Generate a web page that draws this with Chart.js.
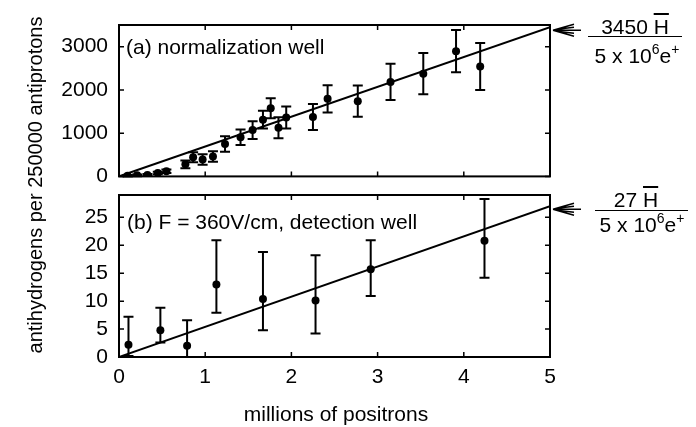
<!DOCTYPE html>
<html>
<head>
<meta charset="utf-8">
<script src="https://cdn.jsdelivr.net/npm/chart.js@4.4.1/dist/chart.umd.min.js"></script>
<style>
  html, body { margin:0; padding:0; background:#fff; }
  #wrap { position:relative; width:696px; height:427px; overflow:hidden; font-family:"Liberation Sans", Arial, Helvetica, sans-serif; color:#000; }
  canvas { position:absolute; left:0; }
  .t { position:absolute; font-size:21px; line-height:24px; white-space:nowrap; color:#000; }
  .ov { text-decoration: overline; text-decoration-thickness: 1.5px; }
  sup { font-size:14px; vertical-align:9px; line-height:0; }
  .fl { position:absolute; height:0; border-top:1.6px solid #000; }
</style>
</head>
<body>
<div id="wrap">
  <canvas id="cA" width="696" height="200" style="top:0px"></canvas>
  <canvas id="cB" width="696" height="257" style="top:170px"></canvas>

  <div class="t" style="left:126px; top:35px;">(a) normalization well</div>
  <div class="t" style="left:127px; top:210px;">(b) F = 360V/cm, detection well</div>
  <div class="t" style="left:-165px; top:173px; width:400px; text-align:center; font-size:20px; transform:rotate(-90deg);">antihydrogens per 250000 antiprotons</div>
  <div class="t" style="left:136px; top:402px; width:400px; text-align:center;">millions of positrons</div>

  <div class="t" style="left:585px; top:15px; width:100px; text-align:center;">3450 <span class="ov">H</span></div>
  <div class="fl" style="left:588px; top:36px; width:94px;"></div>
  <div class="t" style="left:587px; top:44px; width:100px; text-align:center;">5 x 10<sup>6</sup>e<sup>+</sup></div>

  <div class="t" style="left:586px; top:188px; width:100px; text-align:center;">27 <span class="ov">H</span></div>
  <div class="fl" style="left:595px; top:210px; width:93px;"></div>
  <div class="t" style="left:592px; top:213px; width:100px; text-align:center;">5 x 10<sup>6</sup>e<sup>+</sup></div>
</div>
<script>
// ---- data ----
const xTicks = [0, 1, 2, 3, 4, 5];
const topTicks = [0, 1000, 2000, 3000];
const botTicks = [0, 5, 10, 15, 20, 25];

const topX   = [0.10, 0.21, 0.33, 0.45, 0.55, 0.77, 0.86, 0.97, 1.09, 1.23, 1.41, 1.55, 1.67, 1.76, 1.85, 1.94, 2.25, 2.42, 2.77, 3.15, 3.53, 3.91, 4.19];
const topY   = [15, 25, 35, 80, 120, 280, 445, 390, 460, 750, 905, 1070, 1310, 1575, 1125, 1360, 1375, 1795, 1740, 2185, 2375, 2895, 2540];
const topErr = [15, 20, 20, 30, 40, 90, 115, 120, 120, 180, 180, 205, 205, 230, 245, 255, 300, 315, 360, 420, 475, 490, 545];

const botX  = [0.11, 0.48, 0.79, 1.13, 1.67, 2.28, 2.92, 4.24];
const botY  = [2.2, 4.8, 2.0, 13.0, 10.4, 10.1, 15.7, 20.8];
const botHi = [7.2, 8.8, 6.6, 20.9, 18.8, 18.2, 20.9, 28.3];
const botLo = [0.2, 2.6, 0.0, 7.9, 4.8, 4.2, 10.9, 14.2];

const fitX   = [0, 5];
const fitTop = [0, 3450];
const fitBot = [0, 27];

// ---- helpers ----
const FONT = { family: '"Liberation Sans", Arial, Helvetica, sans-serif', size: 21 };

const framePlugin = {
  id: 'frame',
  afterDatasetsDraw(chart, args, opts) {
    const ctx = chart.ctx, a = chart.chartArea;
    const xs = chart.scales.x, ys = chart.scales.y;
    ctx.save();
    ctx.strokeStyle = '#000';
    // error bars
    const eb = opts.err;
    ctx.lineWidth = 2;
    for (let i = 0; i < eb.x.length; i++) {
      const px = xs.getPixelForValue(eb.x[i]);
      const pl = ys.getPixelForValue(eb.lo[i]);
      const ph = ys.getPixelForValue(eb.hi[i]);
      ctx.beginPath();
      ctx.moveTo(px, pl); ctx.lineTo(px, ph);
      ctx.moveTo(px - 5, pl); ctx.lineTo(px + 5, pl);
      ctx.moveTo(px - 5, ph); ctx.lineTo(px + 5, ph);
      ctx.stroke();
    }
    // box
    ctx.lineWidth = 2;
    ctx.strokeRect(a.left, a.top, a.right - a.left, a.bottom - a.top);
    // inward ticks
    ctx.lineWidth = 1.5;
    ctx.beginPath();
    xs.ticks.forEach(t => {
      const p = xs.getPixelForValue(t.value);
      ctx.moveTo(p, a.bottom); ctx.lineTo(p, a.bottom - 5);
      ctx.moveTo(p, a.top); ctx.lineTo(p, a.top + 5);
    });
    ys.ticks.forEach(t => {
      const p = ys.getPixelForValue(t.value);
      ctx.moveTo(a.left, p); ctx.lineTo(a.left + 5, p);
      ctx.moveTo(a.right, p); ctx.lineTo(a.right - 5, p);
    });
    ctx.stroke();
    // arrow to the fit line end
    const tipX = a.right + 3;
    const tipY = ys.getPixelForValue(opts.arrowVal) + 3;
    ctx.lineWidth = 1.5;
    ctx.beginPath();
    ctx.moveTo(tipX, tipY); ctx.lineTo(tipX + 28, tipY);
    ctx.moveTo(tipX, tipY); ctx.lineTo(tipX + 21, tipY - 6);
    ctx.moveTo(tipX, tipY); ctx.lineTo(tipX + 21, tipY + 6);
    ctx.moveTo(tipX + 4, tipY - 1); ctx.lineTo(tipX + 21, tipY - 3);
    ctx.moveTo(tipX + 4, tipY + 1); ctx.lineTo(tipX + 21, tipY + 3);
    ctx.stroke();
    ctx.restore();
  }
};

function makeChart(id, xs, ys, fit, yMax, yTickList, err, arrowVal, showX, padTop, xHeight) {
  return new Chart(document.getElementById(id), {
    type: 'scatter',
    data: {
      datasets: [
        {
          data: xs.map((v, i) => ({ x: v, y: ys[i] })),
          pointRadius: 4, pointHoverRadius: 4,
          backgroundColor: '#000', borderWidth: 0
        },
        {
          data: fitX.map((v, i) => ({ x: v, y: fit[i] })),
          showLine: true, pointRadius: 0, borderColor: '#000', borderWidth: 2, fill: false
        }
      ]
    },
    options: {
      responsive: false, animation: false, devicePixelRatio: 1,
      layout: { padding: { left: 0, right: 146, top: padTop, bottom: 0 } },
      plugins: { legend: { display: false }, tooltip: { enabled: false },
                 frame: { err: err, arrowVal: arrowVal } },
      scales: {
        x: {
          type: 'linear', min: 0, max: 5,
          grid: { display: false, drawTicks: false }, border: { display: false },
          ticks: { display: showX, font: FONT, color: '#000', padding: 8, maxRotation: 0,
                   callback: v => String(v) },
          afterBuildTicks: s => { s.ticks = xTicks.map(v => ({ value: v })); },
          afterFit: s => { s.height = xHeight; }
        },
        y: {
          type: 'linear', min: 0, max: yMax,
          grid: { display: false, drawTicks: false }, border: { display: false },
          ticks: { font: FONT, color: '#000', padding: 11, callback: v => String(v) },
          afterBuildTicks: s => { s.ticks = yTickList.map(v => ({ value: v })); },
          afterFit: s => { s.width = 119; }
        }
      }
    },
    plugins: [framePlugin]
  });
}

makeChart('cA', topX, topY, fitTop, 3500, topTicks,
  { x: topX, lo: topY.map((v, i) => v - topErr[i]), hi: topY.map((v, i) => v + topErr[i]) },
  fitTop[1], false, 25, 13);

makeChart('cB', botX, botY, fitBot, 29, botTicks,
  { x: botX, lo: botLo, hi: botHi },
  fitBot[1], true, 25, 70);
</script>
</body>
</html>
